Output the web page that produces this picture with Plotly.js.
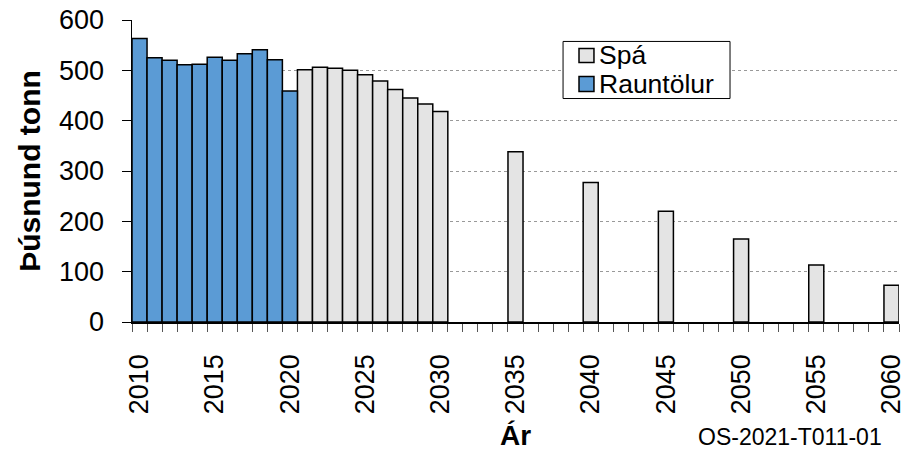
<!DOCTYPE html>
<html>
<head>
<meta charset="utf-8">
<script src="https://cdn.plot.ly/plotly-3.0.1.min.js"></script>
<style>html,body{margin:0;padding:0;background:#fff;}#chart{width:917px;height:453px;}</style>
</head>
<body>
<div id="chart"></div>
<script>
const actualYears = [2010,2011,2012,2013,2014,2015,2016,2017,2018,2019,2020];
const actualValues = [563,525,520,511,512,526,520,533,541,521,459];
const forecastYears = [2021,2022,2023,2024,2025,2026,2027,2028,2029,2030,2035,2040,2045,2050,2055,2060];
const forecastValues = [501,506,504,500,491,479,462,445,433,418,338,277,220,165,113,73];
const tickYears = [2010,2015,2020,2025,2030,2035,2040,2045,2050,2055,2060];
const tickLabels = tickYears.map(String);
const seriesNames = ['Spá', 'Rauntölur'];
const seriesColors = ['#e4e4e4', '#5b9bd5'];

const FONT = 'Arial, "Liberation Sans", sans-serif';

const traces = [
  {type:'bar', name:seriesNames[0], x:forecastYears, y:forecastValues,
   marker:{color:seriesColors[0], line:{color:'#000', width:1.5}}, width:1},
  {type:'bar', name:seriesNames[1], x:actualYears, y:actualValues,
   marker:{color:seriesColors[1], line:{color:'#000', width:1.5}}, width:1}
];

// custom legend (paper coords)
const shapes = [
  {type:'rect', xref:'paper', yref:'paper', x0:0.562, x1:0.7797, y0:0.740, y1:0.929,
   fillcolor:'#fff', line:{color:'#000', width:1}, layer:'above'},
  {type:'rect', xref:'paper', yref:'paper', x0:0.5828, x1:0.6023, y0:0.8593, y1:0.9056,
   fillcolor:seriesColors[0], line:{color:'#000', width:1.5}, layer:'above'},
  {type:'rect', xref:'paper', yref:'paper', x0:0.5828, x1:0.6023, y0:0.7632, y1:0.8129,
   fillcolor:seriesColors[1], line:{color:'#000', width:1.5}, layer:'above'}
];

const annotations = [
  {text:seriesNames[0], xref:'paper', yref:'paper', x:0.6076, y:0.8825, xanchor:'left', yanchor:'middle',
   showarrow:false, font:{size:26.5}, borderpad:0},
  {text:seriesNames[1], xref:'paper', yref:'paper', x:0.6076, y:0.788, xanchor:'left', yanchor:'middle',
   showarrow:false, font:{size:26.5}, borderpad:0},
  {text:'OS-2021-T011-01', xref:'paper', yref:'paper', x:0.979, y:-0.4288,
   xanchor:'right', yanchor:'bottom', showarrow:false, font:{size:23}, borderpad:0}
];

const layout = {
  width:917, height:453,
  margin:{l:132, r:18, t:20, b:130.5},
  paper_bgcolor:'#fff', plot_bgcolor:'#fff',
  font:{family:FONT, color:'#000', size:27},
  showlegend:false,
  bargap:0,
  xaxis:{type:'linear', range:[2009.5,2060.5], tickvals:tickYears, ticktext:tickLabels,
         tickangle:-90, ticks:'', showgrid:false, zeroline:false,
         showline:true, linecolor:'#000', linewidth:1.5,
         ticklabelstandoff:20,
         minor:{tick0:2009.5, dtick:1, ticks:'outside', ticklen:8, tickcolor:'#555', tickwidth:1, showgrid:false},
         tickfont:{size:27},
         title:{text:'<b>Ár</b>', font:{size:28}, standoff:12}},
  yaxis:{range:[0,600], tickvals:[0,100,200,300,400,500,600], ticks:'outside', ticklen:9,
         tickcolor:'#000', tickwidth:1, showline:true, linecolor:'#000', linewidth:1.5,
         showgrid:true, gridcolor:'#999', griddash:'dot', gridwidth:1, zeroline:false,
         ticklabelstandoff:12, tickfont:{size:27},
         title:{text:'<b>Þúsnund tonn</b>', font:{size:30}, standoff:9}},
  shapes:shapes,
  annotations:annotations
};

Plotly.newPlot('chart', traces, layout, {displayModeBar:false, staticPlot:true});
</script>
</body>
</html>
